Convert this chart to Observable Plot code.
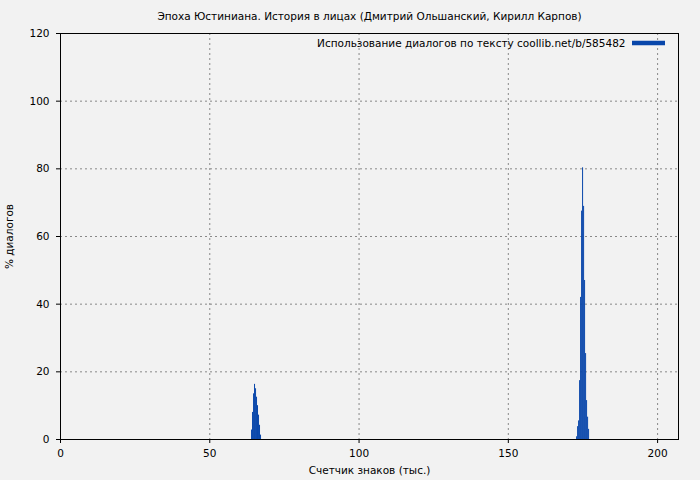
<!DOCTYPE html>
<html>
<head>
<meta charset="utf-8">
<script src="https://cdn.jsdelivr.net/npm/d3@7"></script>
<script src="https://cdn.jsdelivr.net/npm/@observablehq/plot@0.6"></script>
<style>
  html, body { margin: 0; padding: 0; background: #f2f2f2; }
</style>
</head>
<body>
<div id="chart"></div>
<script>
const title = "Эпоха Юстиниана. История в лицах (Дмитрий Ольшанский, Кирилл Карпов)";
const xLabel = "Счетчик знаков (тыс.)";
const yLabel = "% диалогов";
const legendLabel = "Использование диалогов по тексту coollib.net/b/585482";
const xTicks = [0, 50, 100, 150, 200];
const yTicks = [0, 20, 40, 60, 80, 100, 120];
const binWidth = 0.335; // thousand characters per bin

const binStarts = [
  63.99, 64.32, 64.66, 64.99, 65.33, 65.66, 65.99, 66.33, 66.66, 67.00,
  172.86, 173.20, 173.53, 173.87, 174.20, 174.54, 174.87, 175.21, 175.54, 175.88, 176.21, 176.55, 176.88
];
const dialogPct = [
  2.8, 8.0, 13.5, 16.3, 15.0, 12.5, 10.0, 7.2, 4.2, 1.3,
  0.8, 3.8, 5.5, 17.4, 42.0, 67.5, 80.3, 68.9, 47.0, 25.4, 11.5, 6.6, 3.0
];

const data = binStarts.map((x, i) => ({x, y: dialogPct[i]}));
const barColor = "#0846aa";
const fs = 10.5;

const legendSwatch = (index, scales, values, dims) => {
  const g = d3.create("svg:g");
  const xr = dims.width - dims.marginRight;
  g.append("line")
    .attr("x1", xr - 46).attr("x2", xr - 13)
    .attr("y1", dims.marginTop + 10).attr("y2", dims.marginTop + 10)
    .attr("stroke", barColor).attr("stroke-width", 4.5);
  return g.node();
};

const chart = Plot.plot({
  width: 700,
  height: 480,
  marginLeft: 60,
  marginRight: 22,
  marginTop: 33,
  marginBottom: 41,
  style: { background: "#f2f2f2", fontFamily: "DejaVu Sans", fontSize: fs + "px", color: "black" },
  x: { domain: [0, 207] },
  y: { domain: [0, 120] },
  marks: [
    Plot.gridX(xTicks, { stroke: "#888", strokeOpacity: 1, strokeDasharray: "2,3" }),
    Plot.gridY(yTicks, { stroke: "#888", strokeOpacity: 1, strokeDasharray: "2,3" }),
    Plot.rectY(data, { x1: "x", x2: d => d.x + binWidth, y: "y", fill: barColor, inset: 0 }),
    Plot.frame({ stroke: "black" }),
    Plot.axisX(xTicks, { tickSize: 4, tickPadding: 6, label: null, stroke: "black", fontSize: fs }),
    Plot.axisY(yTicks, { tickSize: 4, tickPadding: 7, label: null, stroke: "black", fontSize: fs }),
    Plot.text([title], { frameAnchor: "top", dy: -17, text: d => d, fontSize: fs, lineAnchor: "middle" }),
    Plot.text([xLabel], { frameAnchor: "bottom", dy: 31, text: d => d, fontSize: fs, lineAnchor: "middle" }),
    Plot.text([yLabel], { frameAnchor: "left", dx: -51, text: d => d, fontSize: fs, rotate: -90, textAnchor: "middle", lineAnchor: "middle" }),
    Plot.text([legendLabel], { frameAnchor: "top-right", dx: -53, dy: 10, text: d => d, fontSize: fs, textAnchor: "end", lineAnchor: "middle" }),
    legendSwatch
  ]
});
document.getElementById("chart").appendChild(chart);
</script>
</body>
</html>
